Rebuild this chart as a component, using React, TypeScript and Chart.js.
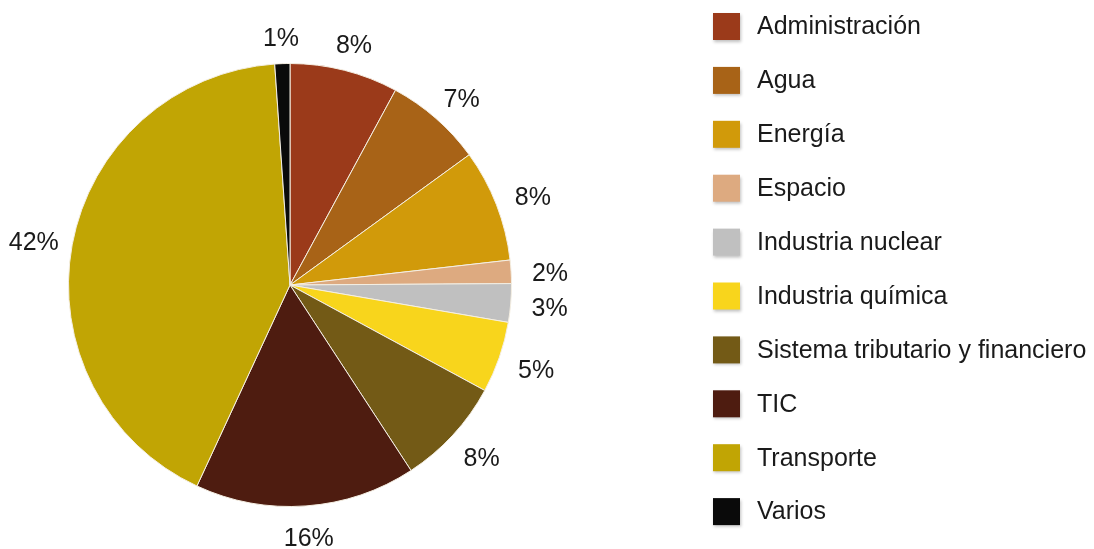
import React, { useEffect, useRef } from "react";
import { Chart, registerables } from "chart.js";

Chart.register(...registerables);

const categories = [
  "Administración",
  "Agua",
  "Energía",
  "Espacio",
  "Industria nuclear",
  "Industria química",
  "Sistema tributario y financiero",
  "TIC",
  "Transporte",
  "Varios",
];
const shares = [7.9, 7.1, 8.2, 1.7, 2.8, 5.2, 7.9, 16.1, 42.0, 1.1];
const colors = [
  "#9B3A1A",
  "#A86317",
  "#D19A0A",
  "#DDAA80",
  "#C0C0C0",
  "#F8D51C",
  "#735A16",
  "#4E1C10",
  "#C1A504",
  "#0A0A0A",
];

const FONT = "'Liberation Sans', Arial, sans-serif";

const labelsPlugin = {
  id: "outerLabels",
  afterDatasetsDraw(chart: any) {
    const ctx = chart.ctx;
    const meta = chart.getDatasetMeta(0);
    const total = shares.reduce((a, b) => a + b, 0);
    ctx.save();
    ctx.font = `25px ${FONT}`;
    ctx.fillStyle = "#1a1a1a";
    ctx.textAlign = "center";
    ctx.textBaseline = "middle";
    meta.data.forEach((arc: any, i: number) => {
      const { x, y, startAngle, endAngle, outerRadius } = arc.getProps(
        ["x", "y", "startAngle", "endAngle", "outerRadius"],
        true
      );
      const mid = (startAngle + endAngle) / 2;
      const rx = outerRadius + 39;
      const ry = outerRadius + 29;
      const lx = x + Math.cos(mid) * rx;
      const ly = y + Math.sin(mid) * ry;
      const pct = Math.round((shares[i] / total) * 100);
      ctx.fillText(`${pct}%`, lx, ly + 4);
    });
    ctx.restore();
  },
};

const legendPlugin = {
  id: "customLegend",
  afterDraw(chart: any) {
    const ctx = chart.ctx;
    const x0 = 713;
    const top = 26.5;
    const step = 53.9;
    const size = 27;
    ctx.save();
    categories.forEach((name, i) => {
      const cy = top + i * step;
      ctx.save();
      ctx.shadowColor = "rgba(0,0,0,0.25)";
      ctx.shadowBlur = 3;
      ctx.shadowOffsetX = 1;
      ctx.shadowOffsetY = 2;
      ctx.fillStyle = colors[i];
      ctx.fillRect(x0, cy - size / 2, size, size);
      ctx.restore();
      ctx.font = `25px ${FONT}`;
      ctx.fillStyle = "#1a1a1a";
      ctx.textAlign = "left";
      ctx.textBaseline = "middle";
      ctx.fillText(name, 757, cy + 1);
    });
    ctx.restore();
  },
};

export default function App() {
  const ref = useRef<HTMLCanvasElement | null>(null);
  useEffect(() => {
    if (!ref.current) return;
    const chart = new Chart(ref.current, {
      type: "pie",
      data: {
        labels: categories,
        datasets: [
          {
            data: shares,
            backgroundColor: colors,
            borderColor: "#F4EEE2",
            borderWidth: 1,
          },
        ],
      },
      options: {
        animation: false,
        responsive: false,
        maintainAspectRatio: false,
        layout: { padding: { left: 68, top: 63, right: 582, bottom: 42 } },
        plugins: {
          legend: { display: false },
          tooltip: { enabled: false },
        },
      },
      plugins: [labelsPlugin, legendPlugin],
    });
    return () => chart.destroy();
  }, []);
  return (
    <div style={{ position: "fixed", left: 0, top: 0, width: 1094, height: 549, background: "#fff" }}>
      <canvas ref={ref} width={1094} height={549} style={{ width: 1094, height: 549 }} />
    </div>
  );
}
